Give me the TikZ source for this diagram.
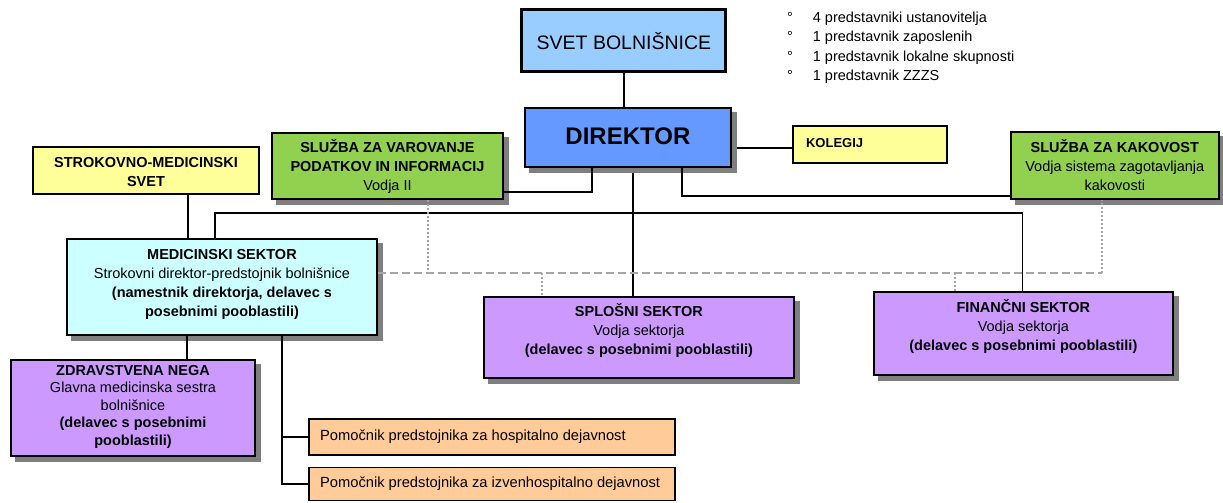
\documentclass[tikz,border=0pt]{standalone}
\usepackage{fontspec}
\setmainfont{Liberation Sans}
\definecolor{svetc}{HTML}{99CCFF}
\definecolor{dirc}{HTML}{6699FF}
\definecolor{greenc}{HTML}{92D050}
\definecolor{yelc}{HTML}{FFFF99}
\definecolor{cyanc}{HTML}{CCFFFF}
\definecolor{purc}{HTML}{CC99FF}
\definecolor{orac}{HTML}{FFCC99}
\definecolor{shadc}{HTML}{7F7F7F}
\definecolor{dashc}{HTML}{A6A6A6}
\begin{document}
\begin{tikzpicture}[x=1pt,y=-1pt,
  box/.style={draw=black, line width=1.4pt, rectangle, inner sep=0pt},
  shadownode/.style={fill=shadc, draw=shadc, line width=1.4pt, rectangle, inner sep=0pt},
  txt/.style={inner sep=0pt, align=center, font=\fontsize{14.5}{19}\selectfont},
  ltxt/.style={inner sep=0pt, anchor=west, font=\fontsize{14.7}{17}\selectfont},
  conn/.style={draw=black, line width=1.3pt},
  dashl/.style={draw=dashc, line width=1.5pt, dash pattern=on 8pt off 4pt},
  dotl/.style={draw=dashc, line width=1.5pt, dash pattern=on 2pt off 2pt}
]
\node[fill=white, inner sep=0pt, minimum width=1223pt, minimum height=502pt, anchor=north west] (page) at (0,0) {};
\useasboundingbox (0,0) rectangle (1223,502);

% drop shadows: offset 5 right, 5 down
\node[shadownode, minimum width=206pt, minimum height=59pt] (direktorS) at (633,142.5) {};
\node[shadownode, minimum width=231pt, minimum height=66pt] (varovanjeS) at (392.5,171) {};
\node[shadownode, minimum width=208pt, minimum height=67pt] (kakovostS) at (1120,170.5) {};
\node[shadownode, minimum width=310pt, minimum height=96pt] (medicinskiS) at (227,292) {};
\node[shadownode, minimum width=310pt, minimum height=81pt] (splosniS) at (644,342.5) {};
\node[shadownode, minimum width=299pt, minimum height=83pt] (financniS) at (1028.5,338.5) {};
\node[shadownode, minimum width=244pt, minimum height=96pt] (zdravstvenaS) at (138,413) {};

% boxes
\node[box, line width=3pt, fill=svetc, minimum width=204pt, minimum height=62pt] (svet) at (624,41) {};
\node[box, fill=dirc, minimum width=206pt, minimum height=59pt] (direktor) at (628,137.5) {};
\node[box, fill=yelc, minimum width=154pt, minimum height=37pt] (kolegij) at (870,144.5) {};
\node[box, fill=greenc, minimum width=231pt, minimum height=66pt] (varovanje) at (387.5,166) {};
\node[box, fill=yelc, minimum width=226pt, minimum height=47pt] (strokovno) at (146,170.5) {};
\node[box, fill=greenc, minimum width=208pt, minimum height=67pt] (kakovost) at (1115,165.5) {};
\node[box, fill=cyanc, minimum width=310pt, minimum height=96pt] (medicinski) at (222,287) {};
\node[box, fill=purc, minimum width=310pt, minimum height=81pt] (splosni) at (639,337.5) {};
\node[box, fill=purc, minimum width=299pt, minimum height=83pt] (financni) at (1023.5,333.5) {};
\node[box, fill=purc, minimum width=244pt, minimum height=96pt] (zdravstvena) at (133,408) {};
\node[box, fill=orac, minimum width=366pt, minimum height=36pt] (pom1) at (492,437) {};
\node[box, fill=orac, minimum width=366pt, minimum height=33pt] (pom2) at (492,484) {};

% texts
\node[txt, font=\fontsize{19.5}{22}\selectfont] (svetT) at (624,41) {SVET BOLNIŠNICE};
\node[txt, font=\bfseries\fontsize{24}{28}\selectfont] (direktorT) at (628,136) {DIREKTOR};
\node[txt, anchor=west, font=\bfseries\fontsize{13}{16}\selectfont] (kolegijT) at (806,143) {KOLEGIJ};
\node[txt] (varovanjeT) at (387.5,167) {\textbf{SLUŽBA ZA VAROVANJE}\\\textbf{PODATKOV IN INFORMACIJ}\\Vodja II};
\node[txt] (strokovnoT) at (146,172.5) {\textbf{STROKOVNO-MEDICINSKI}\\\textbf{SVET}};
\node[txt] (kakovostT) at (1115,165) {\textbf{SLUŽBA ZA KAKOVOST}\\Vodja sistema zagotavljanja\\kakovosti};
\node[txt] (medicinskiT) at (222,284) {\textbf{MEDICINSKI SEKTOR}\\Strokovni direktor-predstojnik bolnišnice\\\textbf{(namestnik direktorja, delavec s}\\\textbf{posebnimi pooblastili)}};
\node[txt] (splosniT) at (639,330.5) {\textbf{SPLOŠNI SEKTOR}\\Vodja sektorja\\\textbf{(delavec s posebnimi pooblastili)}};
\node[txt] (financniT) at (1023.5,326.5) {\textbf{FINANČNI SEKTOR}\\Vodja sektorja\\\textbf{(delavec s posebnimi pooblastili)}};
\node[txt, font=\fontsize{14.5}{17.5}\selectfont] (zdravstvenaT) at (133,407) {\textbf{ZDRAVSTVENA NEGA}\\Glavna medicinska sestra\\bolnišnice\\\textbf{(delavec s posebnimi}\\\textbf{pooblastili)}};
\node[ltxt] (pom1T) at (320,437) {Pomočnik predstojnika za hospitalno dejavnost};
\node[ltxt] (pom2T) at (320,484) {Pomočnik predstojnika za izvenhospitalno dejavnost};

\node[inner sep=0pt, anchor=north west, align=left, font=\fontsize{14.5}{19.2}\selectfont] (clani) at (787,12)
 {°\hspace{20pt}4 predstavniki ustanovitelja\\°\hspace{20pt}1 predstavnik zaposlenih\\°\hspace{20pt}1 predstavnik lokalne skupnosti\\°\hspace{20pt}1 predstavnik ZZZS};

% solid connectors
\draw[conn] (svet.south) -- (svet.south |- direktor.north);
\draw[conn] (direktorS.east |- 0,148) -- (kolegij.west |- 0,148);
\coordinate (dv) at (592,192);
\draw[conn] (direktor.south -| dv) -- (dv) -- (varovanje.east |- dv);
\coordinate (dk) at (682,196);
\draw[conn] (direktor.south -| dk) -- (dk) -- (kakovost.west |- dk);
\coordinate (dc) at (633,213);
\draw[conn] (direktorS.south -| dc) -- (splosni.north -| dc);
\coordinate (busL) at (215,213);
\coordinate (busR) at (1023,213);
\draw[conn] (medicinski.north -| busL) -- (busL) -- (busR) -- (financni.north -| busR);
\draw[conn] (strokovno.south -| 188,0) -- (medicinski.north -| 188,0);
\draw[conn] (medicinski.south -| 187,0) -- (zdravstvena.north -| 187,0);
\coordinate (mp) at (282,484);
\draw[conn] (medicinski.south -| mp) -- (mp) -- (pom2.west);
\draw[conn] (pom1.west -| mp) -- (pom1.west);

% dashed connectors
\coordinate (dq) at (1102,273);
\draw[dashl] (medicinski.east |- dq) -- (dq);
\draw[dotl] (dq) -- (kakovost.south -| dq);
\draw[dotl] (varovanje.south -| 428,0) -- (428,273);
\draw[dotl] (542,273) -- (splosni.north -| 542,0);
\draw[dotl] (955,273) -- (financni.north -| 955,0);
\end{tikzpicture}
\end{document}
